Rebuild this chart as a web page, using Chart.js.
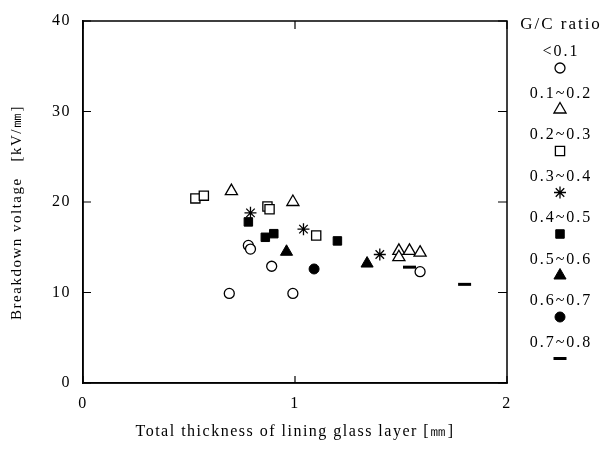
<!DOCTYPE html>
<html lang="en">
<head>
<meta charset="UTF-8">
<title>Breakdown voltage vs. lining glass thickness</title>
<script src="https://cdn.jsdelivr.net/npm/chart.js"></script>
<style>
  html, body { margin: 0; padding: 0; background: #fff; }
  #chart { display: block; }
</style>
</head>
<body>
<canvas id="chart" width="603" height="471"></canvas>
<script>
// G/C ratio groups, one [thickness mm, voltage kV/mm] list per group
const ratioLabels = ['<0.1', '0.1~0.2', '0.2~0.3', '0.3~0.4', '0.4~0.5', '0.5~0.6', '0.6~0.7', '0.7~0.8'];
const ratioBelow01 = [[0.69, 9.9], [0.78, 15.2], [0.79, 14.8], [0.89, 12.9], [0.99, 9.9], [1.59, 12.3]];
const ratio01to02 = [[0.70, 21.2], [0.99, 20.0], [1.49, 14.6], [1.49, 13.9], [1.54, 14.6], [1.59, 14.4]];
const ratio02to03 = [[0.53, 20.4], [0.57, 20.7], [0.87, 19.5], [0.88, 19.2], [1.10, 16.3]];
const ratio03to04 = [[0.79, 18.8], [1.04, 17.0], [1.40, 14.2]];
const ratio04to05 = [[0.78, 17.8], [0.86, 16.1], [0.90, 16.5], [1.20, 15.7]];
const ratio05to06 = [[0.96, 14.5], [1.34, 13.2]];
const ratio06to07 = [[1.09, 12.6]];
const ratio07to08 = [[1.54, 12.8], [1.80, 10.9]];

const xTicks = [0, 1, 2];
const yTicks = [0, 10, 20, 30, 40];

const serif = '"Liberation Serif", "DejaVu Serif", serif';

const groups = [ratioBelow01, ratio01to02, ratio02to03, ratio03to04, ratio04to05, ratio05to06, ratio06to07, ratio07to08];
// marker look for each group
const markers = [
  { style: 'circle',   r: 5,   fill: '#fff', bw: 1.3 },
  { style: 'triangle', r: 7,   fill: '#fff', bw: 1.3 },
  { style: 'rect',     r: 6.5, fill: '#fff', bw: 1.3 },
  { style: 'star',     r: 6,   fill: '#fff', bw: 1.3 },
  { style: 'rect',     r: 6,   fill: '#000', bw: 1 },
  { style: 'triangle', r: 7,   fill: '#000', bw: 1 },
  { style: 'circle',   r: 5,   fill: '#000', bw: 1 },
  { style: 'line',     r: 6.5, fill: '#000', bw: 3 }
];

const datasets = groups.map((pts, i) => ({
  label: ratioLabels[i],
  data: pts.map(p => ({ x: p[0], y: p[1] })),
  pointStyle: markers[i].style,
  pointRadius: markers[i].r,
  pointBackgroundColor: markers[i].fill,
  pointBorderColor: '#000',
  pointBorderWidth: markers[i].bw,
  showLine: false
}));

// wider letter spacing for axis text (scales are drawn between these two hooks)
const spacingPlugin = {
  id: 'spacing',
  beforeDraw(chart) { chart.ctx.letterSpacing = '1.5px'; },
  beforeDatasetsDraw(chart) { chart.ctx.letterSpacing = '0px'; }
};

// frame + inward tick marks
const framePlugin = {
  id: 'frame',
  afterDraw(chart) {
    const { ctx, chartArea: a, scales: { x, y } } = chart;
    ctx.save();
    ctx.strokeStyle = '#000';
    ctx.lineWidth = 1.5;
    ctx.strokeRect(a.left, a.top, a.right - a.left, a.bottom - a.top);
    ctx.lineWidth = 1.2;
    ctx.beginPath();
    xTicks.forEach(v => {
      const px = x.getPixelForValue(v);
      ctx.moveTo(px, a.bottom); ctx.lineTo(px, a.bottom - 7);
      ctx.moveTo(px, a.top); ctx.lineTo(px, a.top + 8);
    });
    yTicks.forEach(v => {
      const py = y.getPixelForValue(v);
      ctx.moveTo(a.left, py); ctx.lineTo(a.left + 8, py);
      ctx.moveTo(a.right, py); ctx.lineTo(a.right - 9, py);
    });
    ctx.stroke();
    ctx.restore();
  }
};

// legend on the right: label above its marker
const legendPlugin = {
  id: 'sideLegend',
  afterDraw(chart) {
    const ctx = chart.ctx;
    const cx = 560;
    ctx.save();
    ctx.letterSpacing = '2px';
    ctx.fillStyle = '#000';
    ctx.font = '17px ' + serif;
    ctx.textAlign = 'center';
    ctx.textBaseline = 'middle';
    ctx.fillText('G/C ratio', cx + 1, 25);
    ctx.font = '16px ' + serif;
    ratioLabels.forEach((lab, i) => {
      const ty = 52 + i * 41.5;
      ctx.fillStyle = '#000';
      ctx.fillText(lab, cx + 1, ty);
      const m = markers[i];
      ctx.fillStyle = m.fill;
      ctx.strokeStyle = '#000';
      ctx.lineWidth = m.bw;
      Chart.helpers.drawPoint(ctx, { pointStyle: m.style, radius: m.r, rotation: 0, borderWidth: m.bw }, cx, ty + 16);
    });
    ctx.restore();
  }
};

new Chart(document.getElementById('chart'), {
  type: 'scatter',
  data: { datasets },
  options: {
    responsive: false,
    animation: false,
    layout: { padding: { top: 21, right: 96, left: 0, bottom: 0 } },
    plugins: { legend: { display: false }, tooltip: { enabled: false } },
    scales: {
      x: {
        type: 'linear', min: 0, max: 2,
        afterBuildTicks: s => { s.ticks = xTicks.map(v => ({ value: v })); },
        afterFit: s => { s.height = 88; },
        grid: { display: false },
        border: { display: true, color: '#000', width: 1.5 },
        ticks: { color: '#000', padding: 3, font: { family: serif, size: 16 } },
        title: {
          display: true, text: 'Total thickness of lining glass layer [㎜]',
          color: '#000', font: { family: serif, size: 16 }, padding: { top: 0, bottom: 30 }
        }
      },
      y: {
        type: 'linear', min: 0, max: 40,
        afterBuildTicks: s => { s.ticks = yTicks.map(v => ({ value: v })); },
        afterFit: s => { s.width = 83; },
        grid: { display: false },
        border: { display: true, color: '#000', width: 1.5 },
        ticks: { color: '#000', padding: 4, font: { family: serif, size: 16 } },
        title: {
          display: true, text: 'Breakdown voltage   [kV/㎜]\u00a0\u00a0\u00a0\u00a0',
          color: '#000', font: { family: serif, size: 15 }, padding: { top: 8, bottom: 0 }
        }
      }
    }
  },
  plugins: [spacingPlugin, framePlugin, legendPlugin]
});
</script>
</body>
</html>
